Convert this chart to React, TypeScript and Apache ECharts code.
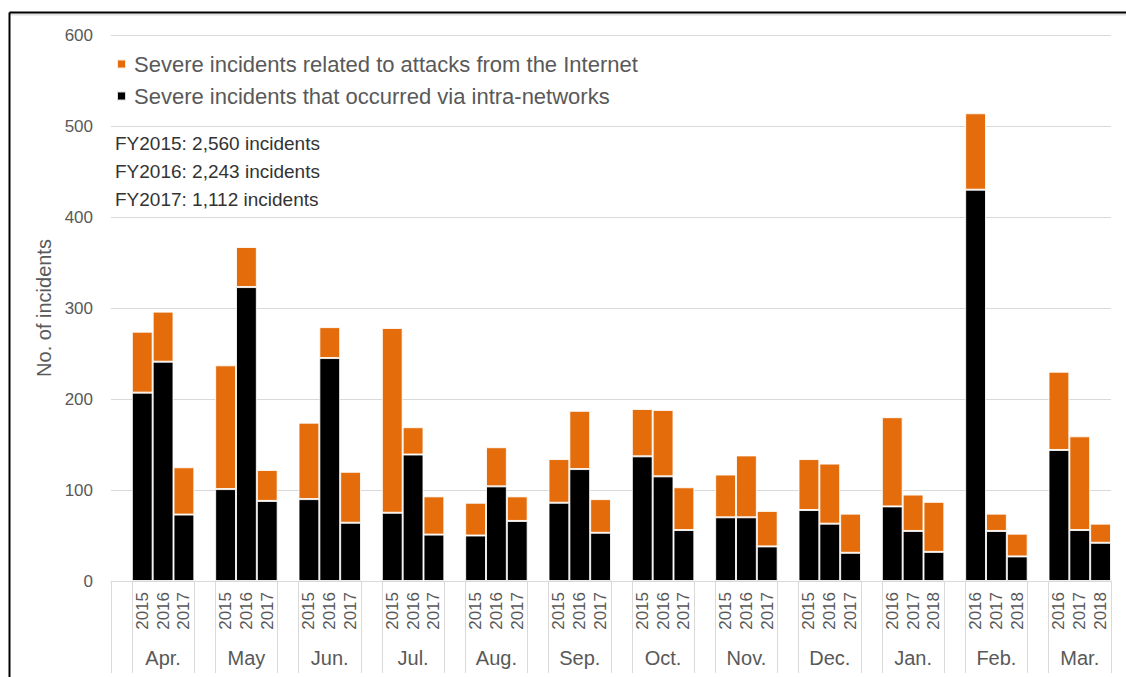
import React, { useEffect, useRef } from "react";
import * as echarts from "echarts";

const months = ["Apr.", "May", "Jun.", "Jul.", "Aug.", "Sep.", "Oct.", "Nov.", "Dec.", "Jan.", "Feb.", "Mar."];
const yearsPerMonth = [
  ["2015", "2016", "2017"], ["2015", "2016", "2017"], ["2015", "2016", "2017"],
  ["2015", "2016", "2017"], ["2015", "2016", "2017"], ["2015", "2016", "2017"],
  ["2015", "2016", "2017"], ["2015", "2016", "2017"], ["2015", "2016", "2017"],
  ["2016", "2017", "2018"], ["2016", "2017", "2018"], ["2016", "2017", "2018"],
];
// Severe incidents that occurred via intra-networks (black)
const intraValues = [
  [207, 241, 73], [101, 323, 88], [90, 245, 64], [75, 139, 51],
  [50, 104, 66], [86, 123, 53], [137, 115, 56], [70, 70, 38],
  [78, 63, 31], [82, 55, 32], [430, 55, 27], [144, 56, 42],
];
// Severe incidents related to attacks from the Internet (orange)
const internetValues = [
  [67, 55, 52], [136, 44, 34], [84, 34, 56], [203, 30, 42],
  [36, 43, 27], [48, 64, 37], [52, 73, 47], [47, 68, 39],
  [56, 66, 43], [98, 40, 55], [84, 19, 25], [86, 103, 21],
];
const yTicks = [0, 100, 200, 300, 400, 500, 600];
const fyNotes = ["FY2015: 2,560 incidents", "FY2016: 2,243 incidents", "FY2017: 1,112 incidents"];
const internetName = "Severe incidents related to attacks from the Internet";
const intraName = "Severe incidents that occurred via intra-networks";
const yAxisName = "No. of incidents";

const FONT = "'Liberation Sans', Arial, sans-serif";
const ORANGE = "#E46C0A";
const GRAYTXT = "#595959";
const GRID = "#d9d9d9";

export default function App() {
  const ref = useRef<HTMLDivElement>(null);
  useEffect(() => {
    if (!ref.current) return;
    const chart = echarts.init(ref.current, null, { renderer: "svg" });

    const yearCats: string[] = [];
    const monthCats: string[] = [];
    const intraData: any[] = [];
    const internetData: any[] = [];
    months.forEach((m, i) => {
      yearCats.push("");
      monthCats.push("");
      intraData.push("-");
      internetData.push("-");
      for (let k = 0; k < 3; k++) {
        yearCats.push(yearsPerMonth[i][k]);
        monthCats.push(k === 1 ? m : "");
        intraData.push(intraValues[i][k]);
        internetData.push(internetValues[i][k]);
      }
    });

    const itemBorder = { borderColor: "rgba(255,255,255,0.85)", borderWidth: 1 };

    chart.setOption({
      animation: false,
      textStyle: { fontFamily: FONT },
      grid: { left: 111, right: 15, top: 35, bottom: 96, containLabel: false },
      legend: {
        orient: "vertical",
        left: 116,
        top: 53,
        padding: 0,
        itemWidth: 9,
        itemHeight: 9,
        itemGap: 10,
        icon: "rect",
        selectedMode: false,
        data: [internetName, intraName],
        textStyle: { fontSize: 22, color: GRAYTXT, fontFamily: FONT, padding: [0, 0, 0, 3] },
      },
      xAxis: [
        {
          type: "category",
          data: yearCats,
          position: "bottom",
          axisLine: { show: true, lineStyle: { color: GRID, width: 1 } },
          axisTick: {
            show: true,
            length: 92,
            interval: (idx: number) => idx % 4 === 0 || idx % 4 === 1,
            lineStyle: { color: GRID, width: 1 },
          },
          axisLabel: {
            interval: 0,
            rotate: 90,
            margin: 11,
            fontSize: 17,
            color: GRAYTXT,
            fontFamily: FONT,
          },
          splitLine: { show: false },
        },
        {
          type: "category",
          data: monthCats,
          position: "bottom",
          axisLine: { show: false },
          axisTick: { show: false },
          axisLabel: { interval: 0, margin: 67, fontSize: 20, color: GRAYTXT, fontFamily: FONT },
          splitLine: { show: false },
        },
      ],
      yAxis: {
        type: "value",
        min: yTicks[0],
        max: yTicks[yTicks.length - 1],
        interval: 100,
        name: yAxisName,
        nameLocation: "middle",
        nameGap: 56,
        nameRotate: 90,
        nameTextStyle: { fontSize: 20, color: GRAYTXT, fontFamily: FONT },
        axisLine: { show: false },
        axisTick: { show: false },
        axisLabel: { margin: 18, fontSize: 17, color: GRAYTXT, fontFamily: FONT },
        splitLine: { show: true, lineStyle: { color: GRID, width: 1 } },
      },
      series: [
        {
          name: intraName,
          type: "bar",
          stack: "total",
          data: intraData,
          barCategoryGap: "0%",
          itemStyle: { color: "#000000", ...itemBorder },
        },
        {
          name: internetName,
          type: "bar",
          stack: "total",
          data: internetData,
          barCategoryGap: "0%",
          itemStyle: { color: ORANGE, ...itemBorder },
        },
      ],
      graphic: [
        ...fyNotes.map((t, i) => ({
          type: "text",
          left: 115,
          top: 134 + i * 28,
          style: { text: t, fontSize: 19, fill: "#333333", fontFamily: FONT },
        })),
        { type: "line", shape: { x1: 9.5, y1: 14.5, x2: 1126, y2: 14.5 }, style: { stroke: "#e0e0e0", lineWidth: 2 } },
        { type: "line", shape: { x1: 9.5, y1: 12.5, x2: 1126, y2: 12.5 }, style: { stroke: "#000", lineWidth: 2 } },
        { type: "line", shape: { x1: 9.5, y1: 12.5, x2: 9.5, y2: 677 }, style: { stroke: "#000", lineWidth: 2 } },
      ],
    });
    return () => chart.dispose();
  }, []);
  return (
    <div
      ref={ref}
      style={{ position: "fixed", left: 0, top: 0, width: 1126, height: 677, background: "#fff" }}
    />
  );
}
